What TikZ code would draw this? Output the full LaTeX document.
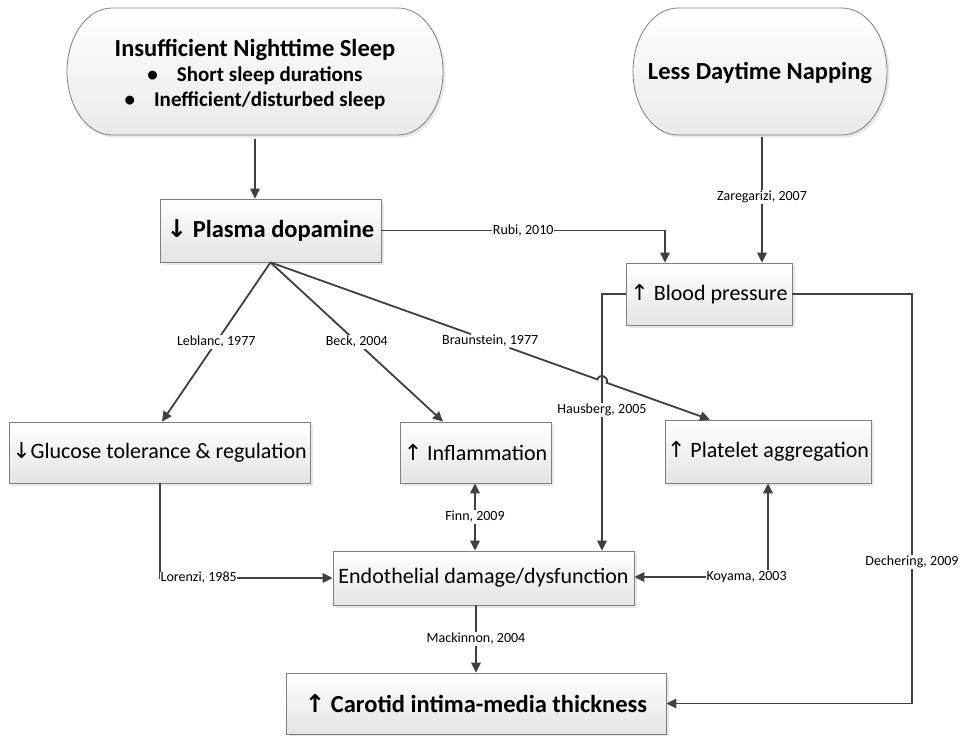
\documentclass[tikz,border=0pt]{standalone}
\usepackage{fontspec}
\setmainfont{Carlito}
\newfontfamily\symfont{DejaVu Sans}
\usetikzlibrary{arrows.meta,shadows,calc}
\definecolor{linegray}{HTML}{404040}
\definecolor{bordergray}{HTML}{7F7F7F}
\definecolor{boxbot}{HTML}{E4E4E4}
\newcommand{\uparr}{{\symfont ↑}}
\newcommand{\dnarr}{{\symfont ↓}}
\tikzset{
  boxnode/.style={draw=bordergray, line width=0.8pt, top color=white, bottom color=boxbot,
    drop shadow={opacity=0.18, shadow xshift=2.5pt, shadow yshift=-2.5pt},
    inner sep=0pt, anchor=center, align=center},
  bigbold/.style={font=\fontsize{24.5}{25}\selectfont\bfseries},
  regtext/.style={font=\fontsize{22}{24}\selectfont},
  termshape/.style={draw=bordergray, line width=0.8pt, top color=white, bottom color=boxbot!80,
    drop shadow={opacity=0.18, shadow xshift=2.5pt, shadow yshift=-2.5pt}},
  arr/.style={draw=linegray, line width=1.8pt, -{Triangle[length=10pt,width=9.5pt]}},
  darr/.style={draw=linegray, line width=1.8pt, {Triangle[length=10pt,width=9.5pt]}-{Triangle[length=10pt,width=9.5pt]}},
  lbl/.style={font=\fontsize{14}{15}\selectfont, fill=white, inner sep=1pt, text=black}
}
\begin{document}
\begin{tikzpicture}[x=1pt,y=-1pt]
\useasboundingbox (0,0) rectangle (961,736);
% terminals
\path[termshape] (112,8) -- (398,8) arc[start angle=-90,end angle=90,x radius=45,y radius=63.5]
  -- (112,135) arc[start angle=90,end angle=270,x radius=45,y radius=63.5] -- cycle;
\path[termshape] (678,8) -- (842,8) arc[start angle=-90,end angle=90,x radius=45,y radius=63.5]
  -- (678,135) arc[start angle=90,end angle=270,x radius=45,y radius=63.5] -- cycle;
\node[bigbold, align=center, minimum width=376pt, minimum height=127pt, inner sep=0pt] (tl) at (255,75)
  {Insufficient Nighttime Sleep\\ {\fontsize{21}{25}\selectfont •\hspace{19pt}Short sleep durations}\\ {\fontsize{21}{25}\selectfont •\hspace{19pt}Inefficient/disturbed sleep}};
\node[bigbold, minimum width=254pt, minimum height=127pt, inner sep=0pt] (tr) at (760,73) {Less Daytime Napping};

% boxes
\node[boxnode, bigbold, minimum width=221pt, minimum height=63pt] (plasma) at (270.5,230.5) {\dnarr\ Plasma dopamine};
\node[boxnode, regtext, minimum width=166pt, minimum height=62pt] (bp) at (709,294) {\uparr\ Blood pressure};
\node[boxnode, regtext, minimum width=301pt, minimum height=61pt] (glu) at (159.5,452.5) {\dnarr Glucose tolerance \& regulation};
\node[boxnode, regtext, minimum width=151pt, minimum height=61pt] (infl) at (475.5,452.5) {\uparr\ Inflammation};
\node[boxnode, regtext, minimum width=206pt, minimum height=63pt] (plat) at (768,451.5) {\uparr\ Platelet aggregation};
\node[boxnode, regtext, minimum width=301pt, minimum height=54pt] (endo) at (483.5,578) {Endothelial damage/dysfunction};
\node[boxnode, bigbold, minimum width=380pt, minimum height=61pt] (car) at (476,703.5) {\uparr\ Carotid intima-media thickness};

% coordinates
\coordinate (pd) at (plasma.south);
\coordinate (glutip) at ($(glu.north)+(2.5,0)$);
\coordinate (infltip) at ($(infl.north)+(-32.5,0)$);
\coordinate (plattip) at ($(plat.north)+(-58,0)$);
\coordinate (bpin1) at ($(bp.north)+(-44,0)$);
\coordinate (bpin2) at ($(bp.north)+(53,0)$);
\coordinate (trout) at (tr.south -| bpin2);
\coordinate (hausx) at (602,294);
\coordinate (decx) at (912,294);
\coordinate (hopA) at (597.3,379.4);
\coordinate (hopB) at (606.7,382.8);
\coordinate (hc1) at (599.6,373.1);
\coordinate (hc2) at (609.0,376.5);
\coordinate (glubot) at ($(glu.south)+(0.5,0)$);
\coordinate (finntop) at ($(infl.south)+(-0.5,0)$);
\coordinate (mackb) at (car.north |- endo.south);

% connectors
\draw[arr] (tl.south) -- (tl.south |- plasma.north);
\draw[arr] (trout) -- node[lbl, pos=0.48] {Zaregarizi, 2007} (trout |- bp.north);
\draw[arr] (plasma.east) -| node[lbl, pos=0.25] {Rubi, 2010} (bpin1);
\draw[arr] (pd) -- node[lbl] {Leblanc, 1977} (glutip);
\draw[arr] (pd) -- node[lbl] {Beck, 2004} (infltip);
\path (pd) -- node[lbl] (braun) {Braunstein, 1977} (plattip);
\draw[arr] (pd) -- (braun) -- (hopA) .. controls (hc1) and (hc2) .. (hopB) -- (plattip);
\draw[arr] (bp.west) -- (hausx) -- (hausx |- endo.north);
\node[lbl] (haus) at (602,410) {Hausberg, 2005};
\draw[arr] (bp.east) -- (decx) -- (decx |- car.east) -- (car.east);
\node[lbl] (dech) at (912,562) {Dechering, 2009};
\draw[arr] (glubot) |- (endo.west);
\node[lbl, anchor=west, inner sep=0.5pt] (lor) at (glubot |- endo.west) {Lorenzi, 1985};
\draw[darr] (finntop) -- node[lbl] {Finn, 2009} (finntop |- endo.north);
\draw[darr] ($(endo.east)+(0,-1)$) -| node[lbl, pos=0.42] {Koyama, 2003} (plat.south);
\draw[arr] (mackb) -- node[lbl] {Mackinnon, 2004} (car.north);
\end{tikzpicture}
\end{document}
